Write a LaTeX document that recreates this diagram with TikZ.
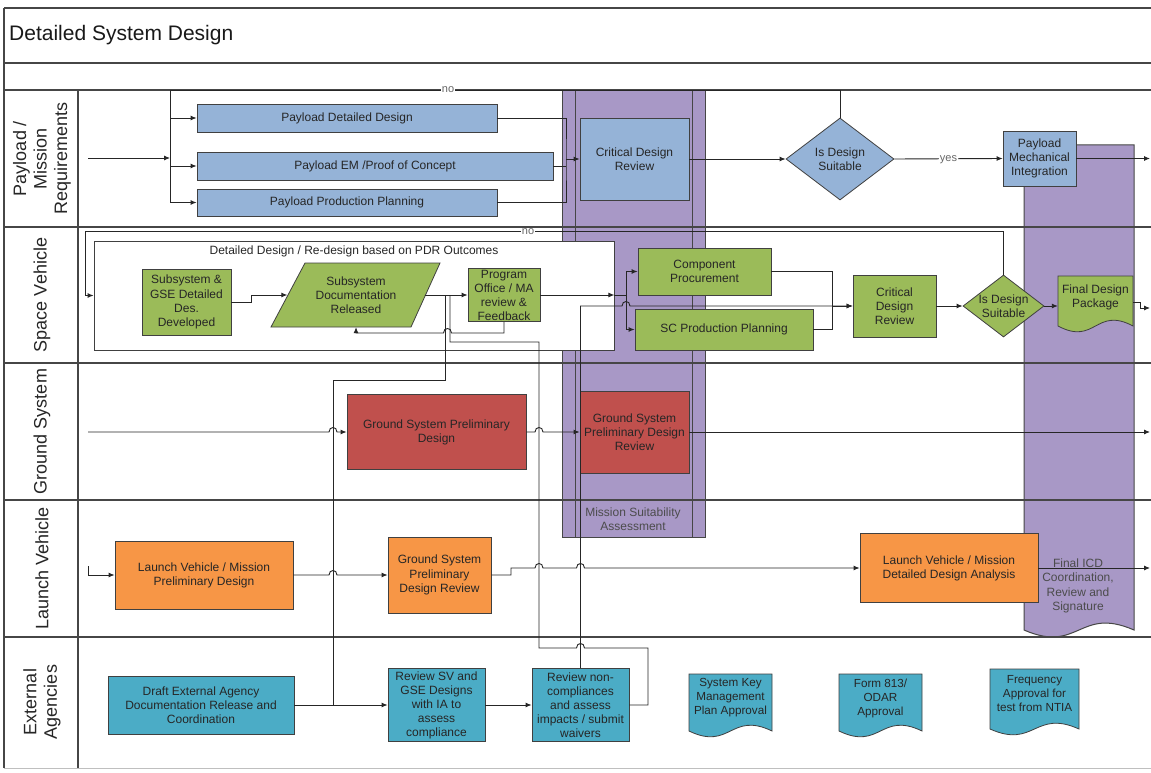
\documentclass[tikz,border=0pt]{standalone}
\usepackage{fontspec}
\setmainfont{Liberation Sans}
\usetikzlibrary{arrows.meta,shapes.geometric,calc}
\definecolor{pblue}{RGB}{149,179,215}
\definecolor{sgreen}{RGB}{155,187,89}
\definecolor{gred}{RGB}{192,80,77}
\definecolor{lorange}{RGB}{247,150,70}
\definecolor{eteal}{RGB}{75,172,198}
\definecolor{bandc}{RGB}{168,152,198}
\definecolor{lanec}{RGB}{70,70,70}
\newcommand\docshape[6]{%
  \pgfmathsetmacro\dmid{(#2+#4)/2}%
  \filldraw[#1] (#2,#3) -- (#4,#3) -- (#4,#5) .. controls (\dmid,#5-#6) and (\dmid,#5+#6) .. (#2,#5) -- cycle;}
\begin{document}
\begin{tikzpicture}[x=1pt,y=-1pt,
  box/.style={draw=black!75, line width=0.8pt, inner sep=1pt, align=center, font=\fontsize{12}{14.2}\selectfont, text=black!85},
  bb/.style={box, fill=pblue},
  gb/.style={box, fill=sgreen},
  rb/.style={box, fill=gred},
  ob/.style={box, fill=lorange},
  tb/.style={box, fill=eteal},
  sz/.style 2 args={minimum width=#1pt, minimum height=#2pt},
  ltxt/.style={align=center, font=\fontsize{12}{14}\selectfont, text=black!85, inner sep=0pt},
  dtxt/.style={align=center, font=\fontsize{11.7}{14}\selectfont, text=black!85, inner sep=0pt},
  bandtxt/.style={align=center, font=\fontsize{12}{14.5}\selectfont, text=black!70, inner sep=0pt},
  lanelbl/.style={align=center, font=\fontsize{18}{20.5}\selectfont, text=black!85, inner sep=0pt, rotate=90},
  arr/.style={-{Latex[length=6pt,width=5pt]}, line width=0.9pt, draw=black!85},
  con/.style={line width=0.9pt, draw=black!85},
  lane/.style={line width=1.3pt, draw=lanec},
  lbl/.style={font=\fontsize{11}{12}\selectfont, text=black!60, fill=white, inner xsep=1pt, inner ysep=0pt, text height=6pt, text depth=0pt},
  hopr/.style 2 args={insert path={-- (#1-4,#2) .. controls (#1-4,#2-6) and (#1+4,#2-6) .. (#1+4,#2)}},
  hopl/.style 2 args={insert path={-- (#1+4,#2) .. controls (#1+4,#2-6) and (#1-4,#2-6) .. (#1-4,#2)}},
]
\useasboundingbox (0,0) rectangle (1151,773);
\fill[white] (0,0) rectangle (1151,773);

% phase bands
\filldraw[fill=bandc, draw=lanec, line width=1pt] (562,90) rectangle (705,537);
\draw[lanec, line width=1pt] (575,90) -- (575,537) (692,90) -- (692,537);
\node[bandtxt] (msa) at (633,519) {Mission Suitability\\Assessment};
\docshape{fill=bandc,draw=lanec,line width=1pt}{1024}{145}{1134}{630}{24}
\node[bandtxt] (ficd) at (1078,586) {Final ICD\\Coordination,\\Review and\\Signature};

% frame and lanes
\draw[lane] (4,8) -- (1151,8);
\draw[lane] (4,8) -- (4,768);
\draw[lane] (4,63) -- (1151,63);
\foreach \yy in {90,227,363,500,637} \draw[lane] (4,\yy) -- (1151,\yy);
\draw[lane] (78,90) -- (78,768);
\draw[black!25, line width=0.8pt] (4,768) -- (1151,768);
\node[anchor=west, font=\fontsize{21}{25}\selectfont, text=black!90, inner sep=0pt] (title) at (9,35) {Detailed System Design};

\node[lanelbl] (l1) at (42,158.5) {Payload /\\Mission\\Requirements};
\node[lanelbl] (l2) at (42,295) {Space Vehicle};
\node[lanelbl] (l3) at (42,431.5) {Ground System};
\node[lanelbl] (l4) at (42,568.5) {Launch Vehicle};
\node[lanelbl] (l5) at (42,702) {External\\Agencies};

% Payload lane
\node[bb, sz={300}{28}] (pdd) at (347,118) {Payload Detailed Design};
\node[bb, sz={356}{28}] (pem) at (375,166) {Payload EM /Proof of Concept};
\node[bb, sz={300}{27}] (ppp) at (347,202.5) {Payload Production Planning};
\node[bb, sz={109}{82}] (cdr1) at (634.5,159) {Critical Design\\Review};
\node[bb, diamond, sz={108}{82}, label={[ltxt]center:{Is Design\\Suitable}}] (dia1) at (840,159) {};
\node[bb, sz={73}{55}] (pmi) at (1039.5,158.5) {Payload\\Mechanical\\Integration};

% Space vehicle lane
\node[draw=black!75, line width=0.8pt, fill=white, sz={520}{109}] (ddbox) at (354,295.5) {};
\node[ltxt] (ddt) at (354,251) {Detailed Design / Re-design based on PDR Outcomes};
\node[gb, sz={89}{66}] (ssg) at (186.5,302) {Subsystem \&\\GSE Detailed\\Des.\\Developed};
\filldraw[fill=sgreen, draw=black!75, line width=0.8pt] (271,327) -- (305,263) -- (440,263) -- (411,327) -- cycle;
\node[ltxt, sz={137}{64}] (sdr) at (356,295) {Subsystem\\Documentation\\Released};
\node[gb, sz={72}{53}, label={[ltxt]center:{Program\\Office / MA\\review \&\\Feedback}}] (po) at (504,295) {};
\node[gb, sz={133}{47}] (cp) at (704.5,271.5) {Component\\Procurement};
\node[gb, sz={178}{41}] (scpp) at (724,329.5) {SC Production Planning};
\node[gb, sz={83}{62}] (cdr2) at (894.5,306) {Critical\\Design\\Review};
\node[gb, diamond, sz={81}{62}, label={[ltxt]center:{Is Design\\Suitable}}] (dia2) at (1003.5,306) {};
\docshape{fill=sgreen,draw=black!75,line width=0.8pt}{1058}{276}{1133}{326}{20}
\node[ltxt, minimum width=75pt] (fdp) at (1095.5,297) {Final Design\\Package};

% Ground lane
\node[rb, sz={179}{75}] (gspd) at (436.5,432) {Ground System Preliminary\\Design};
\node[rb, sz={109}{82}] (gspdr) at (634.5,432) {Ground System\\Preliminary Design\\Review};

% Launch lane
\node[ob, sz={178}{68}] (lvpd) at (204,575) {Launch Vehicle / Mission\\Preliminary Design};
\node[ob, sz={103}{76}] (gspdr2) at (439.5,575) {Ground System\\Preliminary\\Design Review};
\node[ob, sz={178}{69}] (lvdda) at (949,568) {Launch Vehicle / Mission\\Detailed Design Analysis};

% External lane
\node[tb, sz={186}{58}] (draft) at (201,705) {Draft External Agency\\Documentation Release and\\Coordination};
\node[tb, sz={97}{73}, label={[ltxt]center:{Review SV and\\GSE Designs\\with IA to\\assess\\compliance}}] (rsv) at (436.5,705) {};
\node[tb, sz={97}{73}, label={[ltxt]center:{Review non-\\compliances\\and assess\\impacts / submit\\waivers}}] (rnc) at (580.5,705) {};
\docshape{fill=eteal,draw=black!75,line width=0.8pt}{689}{674}{772}{731}{20}
\node[dtxt, minimum width=83pt] (skm) at (730.5,698) {System Key\\Management\\Plan Approval};
\docshape{fill=eteal,draw=black!75,line width=0.8pt}{839}{674}{922}{731}{20}
\node[dtxt, minimum width=83pt] (odar) at (880.5,698) {Form 813/\\ODAR\\Approval};
\docshape{fill=eteal,draw=black!75,line width=0.8pt}{990}{669}{1079}{729}{20}
\node[dtxt, minimum width=89pt] (freq) at (1034.5,694) {Frequency\\Approval for\\test from NTIA};

% ---------- connectors ----------
% payload
\coordinate (pin1) at (88,158);
\coordinate (j1) at (170,158);
\coordinate (nol) at (170,90);
\draw[arr] (pin1) -- (j1);
\draw[con] (dia1.north) |- (nol) -- (ppp.west -| nol);
\node[lbl] (no1) at (448,90) {no};
\draw[arr] (pdd.west -| j1) -- (pdd.west);
\draw[arr] (pem.west -| j1) -- (pem.west);
\draw[arr] (ppp.west -| j1) -- (ppp.west);
\coordinate (jr) at (566,159);
\draw[con] (pdd.east) -| (jr) |- (ppp.east);
\draw[con] (pem.east) -- (pem.east -| jr);
\draw[arr] (jr) -- (cdr1.west);
\draw[arr] (cdr1.east) -- (dia1.west);
\draw[arr] (dia1.east) -- node[lbl] (yes1) {yes} (pmi.west);
\coordinate (out1) at (1150,158.5);
\draw[arr] (pmi.east) -- (out1);

% space vehicle
\coordinate (nol2) at (85,231);
\draw[arr] (dia2.north) |- (nol2) |- (ddbox.west);
\node[lbl] (no2) at (528,231) {no};
\draw[arr] (ssg.east) -- (251,302) -- (251,295) -- (sdr.west);
\draw[arr] (sdr.east) -- (po.west);
\draw[arr] (po.east) -- (po.east -| ddbox.east);
\coordinate (jb) at (626,295);
\draw[con] (po.east -| ddbox.east) -- (jb);
\draw[arr] (jb) |- (cp.west);
\draw[arr] (jb) |- (scpp.west);
\coordinate (jc) at (832,306);
\draw[con] (cp.east) -| (jc) |- (scpp.east);
\draw[arr] (jc) -- (cdr2.west);
\draw[arr] (cdr2.east) -- (dia2.west);
\draw[arr] (dia2.east) -- (dia2.east -| fdp.west);
\coordinate (out2) at (1150,308);
\draw[arr] (1133,302) -- (1140,302) |- (out2);
\draw[arr] (po.south) -- (504,333) [hopl={447.5}{333}] -- (sdr.south |- 0,333) -- (sdr.south);

% cross-lane links
\coordinate (ja) at (445,295);
\coordinate (ja2) at (333,705);
\draw[con] (ja) -- (445,380) -| (ja2);
\coordinate (jbb) at (450,295);
\draw[con] (jbb) -- (450,342) -- (539,342) -- (539,648) [hopr={580.5}{648}] -- (648,648) |- (rnc.east);
\draw[arr] (rnc.north) -- (580.5,306) [hopr={626}{306}] -- (cdr2.west);

% ground
\coordinate (pin3) at (88,432);
\draw[arr] (pin3) [hopr={333}{432}] -- (gspd.west);
\draw[arr] (gspd.east) [hopr={539}{432}] -- (gspdr.west);
\coordinate (out3) at (1150,432);
\draw[arr] (gspdr.east) -- (out3);

% launch
\coordinate (pin4) at (88,566);
\draw[arr] (pin4) |- (lvpd.west);
\draw[arr] (lvpd.east) [hopr={333}{575}] -- (gspdr2.west);
\draw[arr] (gspdr2.east) -- (511,575) -- (511,568) [hopr={539}{568}] [hopr={580.5}{568}] -- (lvdda.west);
\coordinate (out4) at (1150,568);
\draw[arr] (lvdda.east) -- (out4);

% external
\draw[arr] (draft.east) -- (rsv.west);
\draw[arr] (rsv.east) -- (rnc.west);
\end{tikzpicture}
\end{document}
